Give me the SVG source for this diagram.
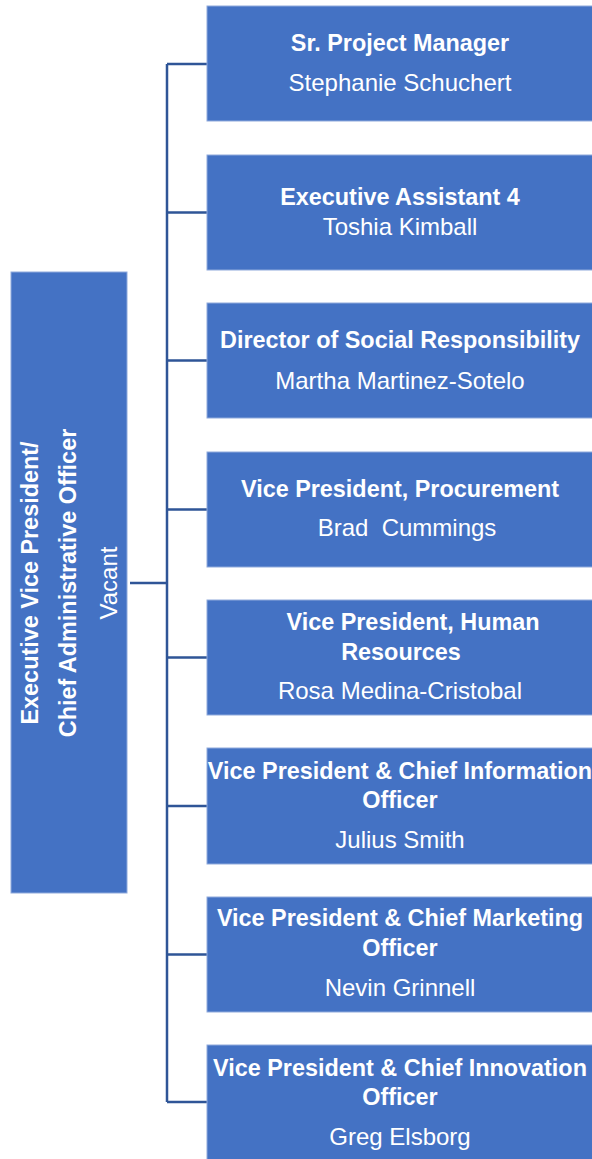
<svg xmlns="http://www.w3.org/2000/svg" width="592" height="1159" viewBox="0 0 592 1159">
<style>
.box{fill:#4472C4;stroke:#8FAADC;stroke-width:1}
.t{font-family:"Liberation Sans",Arial,sans-serif;fill:#fff;text-anchor:middle;font-size:24px}
.b{font-weight:bold;font-size:23.4px}
.c{fill:none;stroke:#2F5597;stroke-width:2.5}
</style>
<rect width="592" height="1159" fill="#fff"/>
<g id="connectors">
<path class="c" d="M167 64V1102M167 64H207M167 212.5H207M167 360.5H207M167 509.5H207M167 657.5H207M167 806H207M167 954.5H207M167 1102H207M130 583H167"/>
</g>
<g id="evp">
<rect class="box" x="11" y="272" width="116" height="621"/>
<text class="t b" transform="translate(38 583) rotate(-90)">Executive Vice President/</text>
<text class="t b" transform="translate(76 583) rotate(-90)">Chief Administrative Officer</text>
<text class="t" transform="translate(117 583) rotate(-90)">Vacant</text>
</g>
<g id="n1">
<rect class="box" x="207" y="6" width="390" height="115"/>
<text class="t b" x="400" y="51">Sr. Project Manager</text>
<text class="t" x="400" y="91">Stephanie Schuchert</text>
</g>
<g id="n2">
<rect class="box" x="207" y="155" width="390" height="115"/>
<text class="t b" x="400" y="205">Executive Assistant 4</text>
<text class="t" x="400" y="235">Toshia Kimball</text>
</g>
<g id="n3">
<rect class="box" x="207" y="303" width="390" height="115"/>
<text class="t b" x="400" y="348">Director of Social Responsibility</text>
<text class="t" x="400" y="389">Martha Martinez-Sotelo</text>
</g>
<g id="n4">
<rect class="box" x="207" y="452" width="390" height="115"/>
<text class="t b" x="400" y="497">Vice President, Procurement</text>
<text class="t" x="407" y="536" xml:space="preserve" style="white-space:pre">Brad  Cummings</text>
</g>
<g id="n5">
<rect class="box" x="207" y="600" width="390" height="115"/>
<text class="t b" x="413" y="630">Vice President, Human</text>
<text class="t b" x="401" y="660">Resources</text>
<text class="t" x="400" y="699">Rosa Medina-Cristobal</text>
</g>
<g id="n6">
<rect class="box" x="207" y="748" width="390" height="116"/>
<text class="t b" x="400" y="779">Vice President &amp; Chief Information</text>
<text class="t b" x="400" y="808">Officer</text>
<text class="t" x="400" y="848">Julius Smith</text>
</g>
<g id="n7">
<rect class="box" x="207" y="897" width="390" height="115"/>
<text class="t b" x="400" y="926">Vice President &amp; Chief Marketing</text>
<text class="t b" x="400" y="956">Officer</text>
<text class="t" x="400" y="996">Nevin Grinnell</text>
</g>
<g id="n8">
<rect class="box" x="207" y="1045" width="390" height="120"/>
<text class="t b" x="400" y="1076">Vice President &amp; Chief Innovation</text>
<text class="t b" x="400" y="1105">Officer</text>
<text class="t" x="400" y="1145">Greg Elsborg</text>
</g>
</svg>
